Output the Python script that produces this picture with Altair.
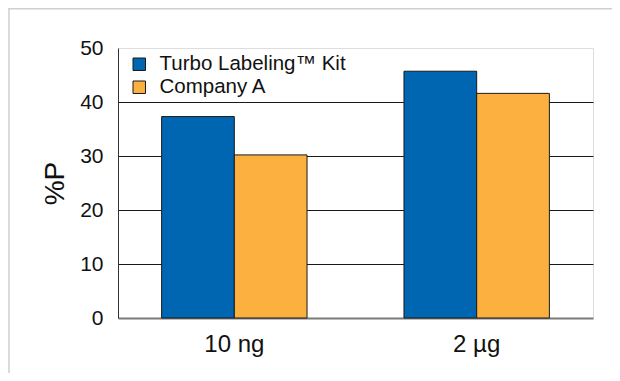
import altair as alt
import pandas as pd

categories = ["10 ng", "2 µg"]
series_names = ["Turbo Labeling™ Kit", "Company A"]
turbo_values = [37.3, 45.7]
company_a_values = [30.2, 41.6]
y_ticks = [0, 10, 20, 30, 40, 50]
colors = ["#0066B2", "#FBB040"]

rows = []
for i, c in enumerate(categories):
    rows.append({"cat": c, "series": series_names[0], "value": turbo_values[i]})
    rows.append({"cat": c, "series": series_names[1], "value": company_a_values[i]})
df = pd.DataFrame(rows)

FONT = "Liberation Sans"

bars = alt.Chart(df).mark_bar(stroke="#1a1a1a", strokeWidth=1).encode(
    x=alt.X("cat:N", sort=categories,
            scale=alt.Scale(paddingInner=0.4, paddingOuter=0.18),
            axis=alt.Axis(title=None, labelAngle=0, labelFontSize=24, labelFont=FONT,
                          labelColor="#111", ticks=False, labelPadding=14,
                          domainColor="#7a7a7a", domainWidth=2)),
    xOffset=alt.XOffset("series:N", sort=series_names),
    y=alt.Y("value:Q", scale=alt.Scale(domain=[0, 50], nice=False),
            axis=alt.Axis(values=y_ticks, title="%P", titleFontSize=28, titleFont=FONT,
                          titleFontWeight="normal", titleColor="#111",
                          titleAngle=270, titleX=-63, titleY=135,
                          titleAlign="center", titleBaseline="middle",
                          labelFontSize=21, labelFont=FONT, labelColor="#111",
                          labelPadding=15, ticks=False,
                          domainColor="#333", domainWidth=1,
                          grid=True, gridWidth=1,
                          gridColor={"condition": {"test": "datum.value === 0 || datum.value === 50",
                                                   "value": "rgba(0,0,0,0)"},
                                     "value": "#1a1a1a"})),
    color=alt.Color("series:N", sort=series_names,
                    scale=alt.Scale(domain=series_names, range=colors),
                    legend=alt.Legend(title=None, orient="none", legendX=11, legendY=6,
                                      symbolType="square", symbolSize=156,
                                      symbolStrokeColor="#1a1a1a", symbolStrokeWidth=1,
                                      symbolOpacity=1, labelLimit=400,
                                      labelFontSize=20.5, labelFont=FONT, labelColor="#111",
                                      labelOffset=10, rowPadding=2, padding=0)),
)

frame_df = pd.DataFrame({"k": [0]})
left_frame = alt.Chart(frame_df).mark_rule(color="#cfcfcf", strokeWidth=1.5).encode(
    x=alt.value(-109), y=alt.value(-40), y2=alt.value(330))
top_frame = alt.Chart(frame_df).mark_rule(color="#cfcfcf", strokeWidth=1.5).encode(
    x=alt.value(-109.75), x2=alt.value(500), y=alt.value(-39.25))

chart = alt.layer(left_frame, top_frame, bars).properties(
    width=475, height=270,
    padding={"left": 110, "top": 40, "right": 19, "bottom": 55},
    autosize=alt.AutoSizeParams(type="none"),
).configure_view(stroke="#7f7f7f", strokeWidth=1.5).configure(background="white")

chart.save("out.html", embed_options={"renderer": "svg", "actions": False})
